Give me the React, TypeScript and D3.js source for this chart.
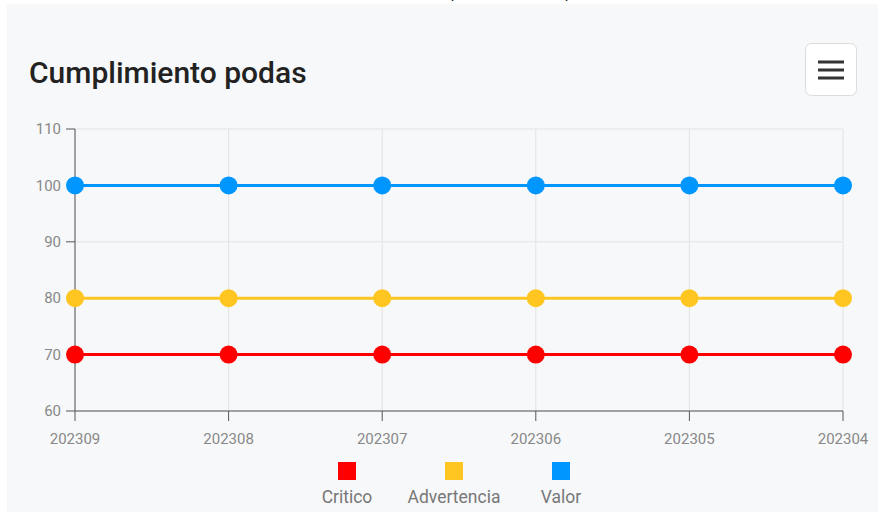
import React from 'react';
import * as d3 from 'd3';

const categories = ['202309', '202308', '202307', '202306', '202305', '202304'];
const critico = [70, 70, 70, 70, 70, 70];
const advertencia = [80, 80, 80, 80, 80, 80];
const valor = [100, 100, 100, 100, 100, 100];
const yTicks = [60, 70, 80, 90, 100, 110];

const series = [
  { name: 'Critico', color: '#ff0000', values: critico },
  { name: 'Advertencia', color: '#ffc622', values: advertencia },
  { name: 'Valor', color: '#0096ff', values: valor },
];

const W = 878;
const H = 512;
const font = 'Roboto, "Noto Sans", sans-serif';

const App = () => {
  // plot area
  const x = d3.scalePoint<string>().domain(categories).range([75, 843]);
  const y = d3.scaleLinear().domain([60, 110]).range([411, 129]);

  const line = d3
    .line<number>()
    .x((_, i) => x(categories[i]) as number)
    .y(d => y(d));

  const legendX = d3.scalePoint<string>().domain(series.map(s => s.name)).range([347, 561]);

  return (
    <svg width={W} height={H} style={{ position: 'absolute', left: 0, top: 0 }} fontFamily={font}>
      <rect x={0} y={0} width={W} height={H} fill="#ffffff" />
      <rect x={7} y={4} width={W - 7} height={H - 4} fill="#f7f8fa" />

      {/* cut-off text above the panel */}
      <text x={452} y={-2} fontSize={16} fontStyle="italic" fill="#222">p</text>
      <text x={566} y={-2} fontSize={16} fontStyle="italic" fill="#222">p</text>

      <text x={29} y={83} fontSize={30} fontWeight={500} fill="#222">
        Cumplimiento podas
      </text>

      {/* menu button */}
      <rect x={805.5} y={43.5} width={51} height={52} rx={6} fill="#ffffff" stroke="#dcdcdc" />
      {[62, 70, 78].map(v => (
        <rect key={v} x={818} y={v - 1.5} width={26} height={3} fill="#333" />
      ))}

      {/* grid */}
      {yTicks.map(t => (
        <line key={'gy' + t} x1={75} x2={843} y1={y(t)} y2={y(t)} stroke="#e3e3e3" />
      ))}
      {categories.map(c => (
        <line key={'gx' + c} x1={x(c)} x2={x(c)} y1={129} y2={411} stroke="#e3e3e3" />
      ))}

      {/* y axis */}
      <line x1={75} x2={75} y1={129} y2={411} stroke="#555" />
      {yTicks.map(t => (
        <g key={'ty' + t}>
          <line x1={66} x2={75} y1={y(t)} y2={y(t)} stroke="#555" />
          <text x={61} y={y(t)} dy="0.35em" textAnchor="end" fontSize={15} fill="#888">
            {t}
          </text>
        </g>
      ))}

      {/* x axis */}
      <line x1={75} x2={843} y1={411} y2={411} stroke="#555" />
      {categories.map(c => (
        <g key={'tx' + c}>
          <line x1={x(c)} x2={x(c)} y1={411} y2={421} stroke="#555" />
          <text x={x(c)} y={444} textAnchor="middle" fontSize={15} fill="#888">
            {c}
          </text>
        </g>
      ))}

      {/* series */}
      {series.map(s => (
        <g key={s.name}>
          <path d={line(s.values) || ''} fill="none" stroke={s.color} strokeWidth={3} />
          {s.values.map((v, i) => (
            <circle key={i} cx={x(categories[i])} cy={y(v)} r={9} fill={s.color} />
          ))}
        </g>
      ))}

      {/* legend */}
      {series.map(s => (
        <g key={'lg' + s.name}>
          <rect x={(legendX(s.name) as number) - 9} y={462} width={18} height={18} fill={s.color} />
          <text x={legendX(s.name)} y={503} textAnchor="middle" fontSize={17.5} fill="#777">
            {s.name}
          </text>
        </g>
      ))}
    </svg>
  );
};

export default App;
